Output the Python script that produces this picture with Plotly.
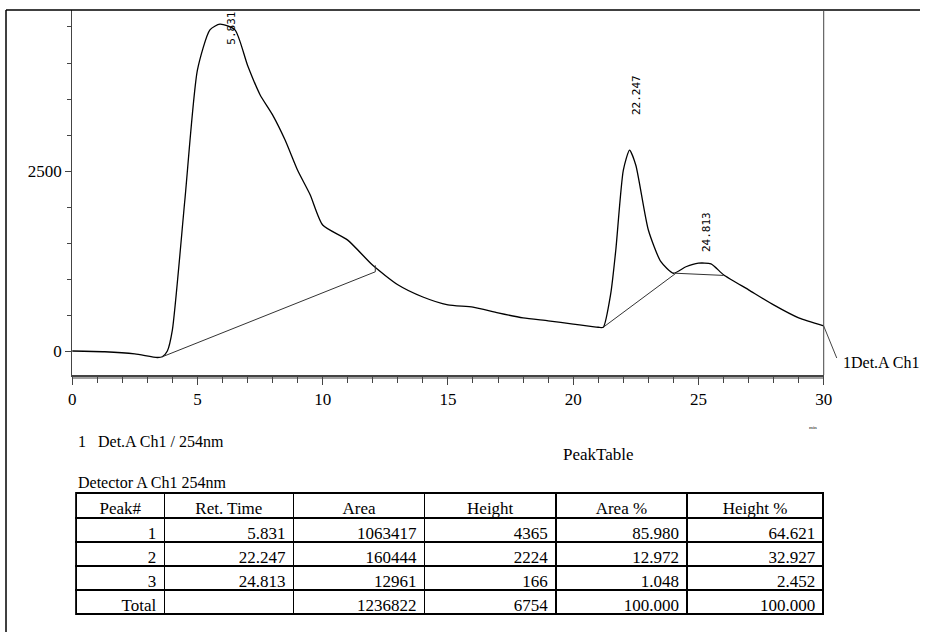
import plotly.graph_objects as go

# chromatogram trace (min, mV-ish units)
time_min = [0, 1.3, 2.5, 3.4, 3.6, 3.8, 4.0, 4.5, 5.0, 5.5, 5.9, 6.5, 7.0, 7.5, 8.0, 8.5, 9.0, 9.5,
            10.0, 11.0, 12.0, 13.0, 14.0, 15.0, 16.0, 17.0, 18.0, 19.0, 20.0, 21.0, 21.2, 21.5, 21.7,
            22.0, 22.25, 22.5, 23.0, 23.5, 24.0, 24.5, 25.0, 25.5, 26.0, 27.0, 28.0, 29.0, 30.0]
signal = [0, -10, -40, -90, -80, 0, 290, 2100, 3900, 4460, 4540, 4460, 3970, 3560, 3280, 2930, 2510, 2170,
          1750, 1540, 1190, 920, 750, 640, 610, 530, 460, 420, 375, 330, 330, 800, 1400,
          2510, 2790, 2580, 1680, 1240, 1080, 1170, 1220, 1210, 1060, 850, 640, 460, 350]

# integration baselines
base1_x = [3.6, 12.1, 12.1]
base1_y = [-80, 1100, 1190]
base2_x = [21.2, 24.1, 26.0]
base2_y = [330, 1080, 1050]

peak_rt = [5.831, 22.247, 24.813]
peak_label_x = [6.35, 22.55, 25.35]
peak_label_y = [4736, 3250, 1350]
peak_label_anchor = ["top", "bottom", "bottom"]

table_header = ["Peak#", "Ret. Time", "Area", "Height", "Area %", "Height %"]
peak_no = ["1", "2", "3", "Total"]
ret_time = ["5.831", "22.247", "24.813", ""]
area = ["1063417", "160444", "12961", "1236822"]
height = ["4365", "2224", "166", "6754"]
area_pct = ["85.980", "12.972", "1.048", "100.000"]
height_pct = ["64.621", "32.927", "2.452", "100.000"]

W, H = 928, 632
SERIF = "Liberation Serif"

def px(x):
    return min(1.0, max(0.0, (x - 5) / 0.985 / W))

def py(y):
    return 1 - y / H

fig = go.Figure()
fig.add_trace(go.Scatter(x=time_min, y=signal, mode="lines", line=dict(color="black", width=1.3, shape="spline", smoothing=0.6),
                         showlegend=False, hoverinfo="skip"))
for bx, by in [(base1_x, base1_y), (base2_x, base2_y)]:
    fig.add_trace(go.Scatter(x=bx, y=by, mode="lines", line=dict(color="#333", width=1),
                             showlegend=False, hoverinfo="skip"))

for rt, lx, ly, anc in zip(peak_rt, peak_label_x, peak_label_y, peak_label_anchor):
    fig.add_annotation(x=lx, y=ly, text=f"{rt:.3f}", textangle=-90, showarrow=False,
                       xanchor="center", yanchor=anc, font=dict(family="DejaVu Sans Mono", size=11, color="black"))

fig.add_table(
    domain=dict(x=[px(77), px(823)], y=[0, py(493)]),
    columnwidth=[88, 129, 131, 131, 131, 136],
    header=dict(values=table_header, align="center", height=25,
                line=dict(color="black", width=1.5), fill=dict(color="white"),
                font=dict(family=SERIF, size=17, color="black")),
    cells=dict(values=[peak_no, ret_time, area, height, area_pct, height_pct], align="right", height=24,
               line=dict(color="black", width=1.5), fill=dict(color="white"),
               font=dict(family=SERIF, size=17, color="black")),
)

texts = [
    ("1   Det.A Ch1 / 254nm", 77, 442, "left", 16),
    ("PeakTable", 598, 455, "center", 17),
    ("Detector A Ch1 254nm", 77, 482, "left", 16),
    ("1Det.A Ch1", 840, 362, "left", 16),
    ("min", 812, 428, "center", 5),
]
for t, x, y, anc, sz in texts:
    fig.add_annotation(xref="paper", yref="paper", x=px(x), y=py(y), text=t, showarrow=False,
                       xanchor=anc, yanchor="middle", font=dict(family=SERIF, size=sz, color="black"))

# outer frame and the little label leader
fig.add_shape(type="line", xref="paper", yref="paper", x0=px(7), x1=px(7), y0=0, y1=py(10),
              line=dict(color="black", width=1.5))
fig.add_shape(type="line", xref="paper", yref="paper", x0=px(7), x1=1, y0=py(10), y1=py(10),
              line=dict(color="black", width=1.5))
fig.add_shape(type="line", xref="paper", yref="paper", x0=px(823), x1=px(823), y0=py(10), y1=py(375),
              line=dict(color="#444", width=1))
fig.add_shape(type="line", xref="paper", yref="paper", x0=px(823), x1=px(836), y0=py(326), y1=py(358),
              line=dict(color="#444", width=1))
fig.add_shape(type="line", xref="paper", yref="paper", x0=px(73), x1=px(823), y0=py(378), y1=py(378),
              line=dict(color="#444", width=1))

fig.update_layout(
    width=W, height=H, margin=dict(l=0, r=0, t=0, b=0),
    paper_bgcolor="white", plot_bgcolor="white",
    font=dict(family=SERIF, size=17, color="black"),
    xaxis=dict(domain=[px(73), px(823)], range=[0, 30], tickvals=[0, 5, 10, 15, 20, 25, 30],
               ticks="outside", ticklen=8, tickcolor="#444", showgrid=False, zeroline=False,
               showline=True, linecolor="#444", linewidth=1.5,
               minor=dict(dtick=1, ticks="outside", ticklen=6, tickcolor="#444")),
    yaxis=dict(domain=[py(375), py(10)], range=[-333, 4736], tickvals=[0, 2500],
               ticks="outside", ticklen=6, tickcolor="#444", showgrid=False, zeroline=False,
               showline=True, linecolor="#444", linewidth=1,
               minor=dict(dtick=500, ticks="outside", ticklen=4, tickcolor="#444")),
)

fig.write_html("out.html", config={"displayModeBar": False})

# drop the browser's default body margin and scrollbars so the page lines up with the reference
with open("out.html", encoding="utf-8") as f:
    page = f.read()
page = page.replace("<head>", "<head><style>html,body{margin:0;padding:0;overflow:hidden;}</style>", 1)
with open("out.html", "w", encoding="utf-8") as f:
    f.write(page)
